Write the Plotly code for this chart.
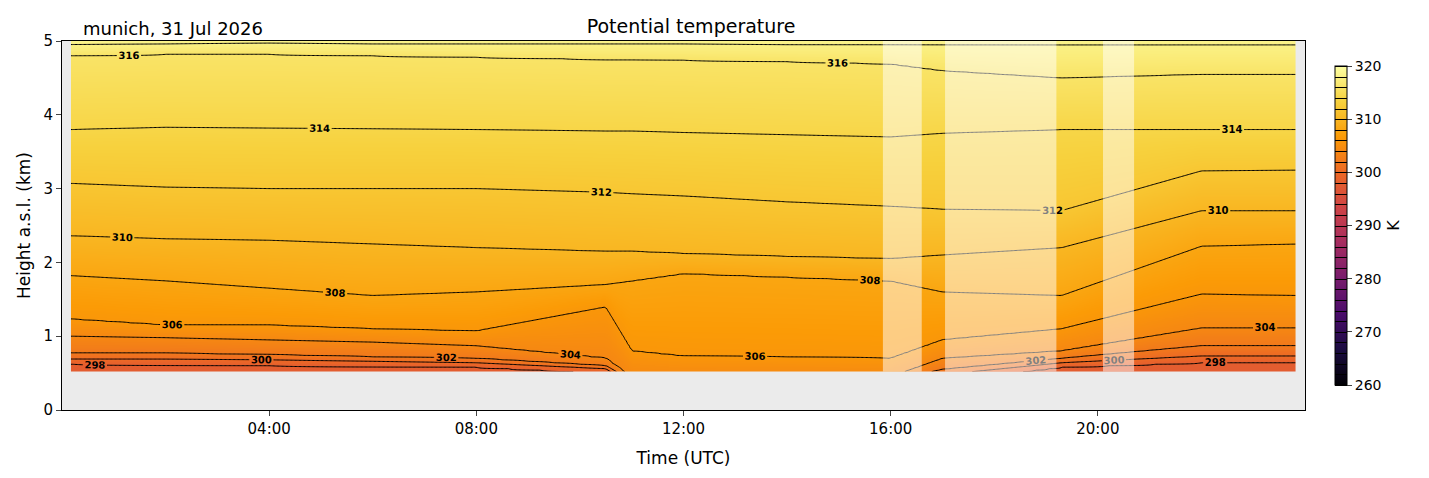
import numpy as np
import plotly.graph_objects as go

# contour levels (K) and their heights (km a.s.l.) read at key times (h UTC)
levels = [298, 300, 302, 304, 306, 308, 310, 312, 314, 316, 318]
key_times = [0.2, 2, 4, 6, 8, 10.5, 11, 12, 14, 16, 17, 19.3, 22, 23.8]
h_t0  = [0.62, 0.69, 0.77, 1.00, 1.23, 1.82, 2.36, 3.07, 3.80, 4.80, 4.95]
h_t2  = [0.61, 0.69, 0.77, 0.98, 1.15, 1.75, 2.32, 3.02, 3.83, 4.82, 4.96]
h_t4  = [0.60, 0.68, 0.75, 0.95, 1.15, 1.65, 2.30, 3.00, 3.82, 4.82, 4.97]
h_t6  = [0.59, 0.66, 0.72, 0.92, 1.10, 1.55, 2.25, 3.00, 3.81, 4.80, 4.96]
h_t8  = [0.58, 0.64, 0.70, 0.87, 1.07, 1.60, 2.20, 3.00, 3.80, 4.78, 4.96]
h_t10 = [0.50, 0.56, 0.60, 0.70, 1.40, 1.70, 2.15, 2.95, 3.78, 4.75, 4.96]
h_t11 = [0.30, 0.35, 0.40, 0.45, 0.80, 1.75, 2.15, 2.93, 3.78, 4.75, 4.96]
h_t12 = [0.30, 0.35, 0.40, 0.45, 0.73, 1.85, 2.12, 2.90, 3.76, 4.74, 4.96]
h_t14 = [0.30, 0.35, 0.40, 0.45, 0.72, 1.80, 2.08, 2.82, 3.73, 4.72, 4.95]
h_t16 = [0.30, 0.35, 0.40, 0.45, 0.70, 1.75, 2.05, 2.76, 3.70, 4.69, 4.95]
h_t17 = [0.40, 0.48, 0.55, 0.70, 0.95, 1.60, 2.10, 2.72, 3.75, 4.60, 4.95]
h_t19 = [0.58, 0.64, 0.70, 0.80, 1.10, 1.55, 2.20, 2.70, 3.80, 4.50, 4.95]
h_t22 = [0.64, 0.73, 0.87, 1.11, 1.57, 2.22, 2.70, 3.24, 3.80, 4.55, 4.95]
h_t24 = [0.64, 0.73, 0.87, 1.11, 1.55, 2.25, 2.70, 3.25, 3.80, 4.55, 4.95]
level_heights = np.array([h_t0, h_t2, h_t4, h_t6, h_t8, h_t10, h_t11, h_t12, h_t14,
                          h_t16, h_t17, h_t19, h_t22, h_t24])

gaps = [(15.85, 16.6), (17.05, 19.2), (20.1, 20.7)]

times = np.arange(0.17, 23.84, 0.05)
heights = np.arange(0.52, 5.001, 0.02)
lev_ext = [296] + levels + [322]
z = np.zeros((len(heights), len(times)))
for j, t in enumerate(times):
    hk = [np.interp(t, key_times, level_heights[:, k]) for k in range(len(levels))]
    hk = [0.0] + hk + [5.4]
    z[:, j] = np.interp(heights, hk, lev_ext)

fig = go.Figure()
fig.add_trace(go.Contour(
    x=times, y=heights, z=z, colorscale="Inferno", zmin=260, zmax=320,
    contours=dict(start=260, end=320, size=2, coloring="heatmap", showlabels=True,
                  labelfont=dict(size=10, color="black", weight="bold")),
    line=dict(color="black", width=1, smoothing=0.8),
    colorbar=dict(title=dict(text="K", side="right", font=dict(size=16)),
                  tickvals=[260, 270, 280, 290, 300, 310, 320], len=0.92, y=0.5,
                  yanchor="middle", thickness=12, x=1.016, xanchor="left",
                  ticks="outside", tickfont=dict(size=14),
                  outlinewidth=1, outlinecolor="black"),
))
for a, b in gaps:
    fig.add_shape(type="rect", x0=a, x1=b, y0=0.52, y1=5, fillcolor="white",
                  opacity=0.5, line_width=0, layer="above")

fig.update_layout(
    width=1429, height=478, margin=dict(l=54, r=132, t=33, b=76, autoexpand=False),
    paper_bgcolor="white", plot_bgcolor="#ebebeb",
    font=dict(family="DejaVu Sans", color="black"),
    title=dict(text="Potential temperature", x=0.478, xanchor="center", y=0.975, yanchor="top",
               font=dict(size=19)),
    annotations=[dict(text="munich, 31 Jul 2026", xref="paper", yref="paper", x=0.015, y=1.0,
                      xanchor="left", yanchor="bottom", showarrow=False, font=dict(size=18))],
    xaxis=dict(range=[0, 24], tickvals=[4, 8, 12, 16, 20], automargin=False,
               ticktext=["04:00", "08:00", "12:00", "16:00", "20:00"],
               title=dict(text="Time (UTC)", font=dict(size=17)), tickfont=dict(size=15),
               ticks="outside", showgrid=False, zeroline=False, showline=True, linecolor="black", mirror=True),
    yaxis=dict(range=[0, 5], dtick=1, automargin=False,
               title=dict(text="Height a.s.l. (km)", font=dict(size=17), standoff=8),
               tickfont=dict(size=15), ticks="outside", showgrid=False, zeroline=False,
               showline=True, linecolor="black", mirror=True),
)
fig.write_html("out.html")
